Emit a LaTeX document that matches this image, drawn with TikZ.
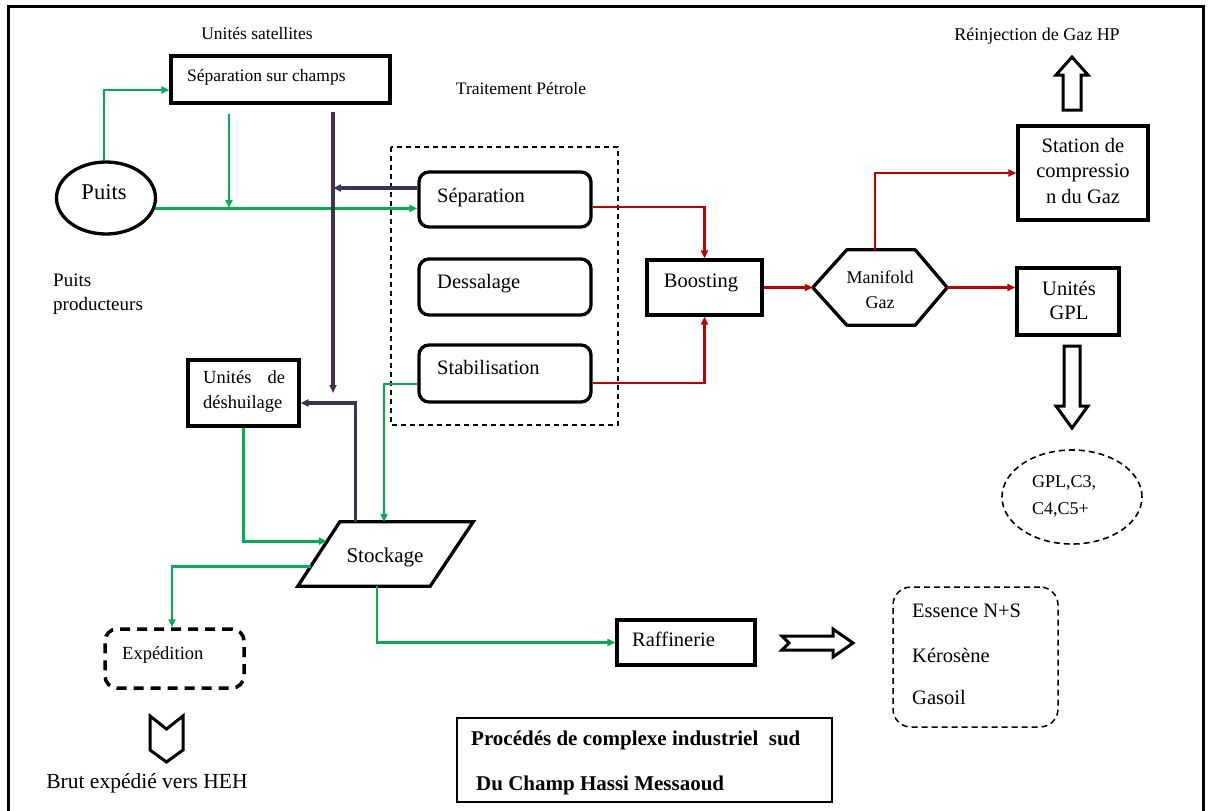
\documentclass[tikz,border=0pt]{standalone}
\usepackage{fontspec}
\setmainfont{Liberation Serif}
\usetikzlibrary{arrows.meta,calc,shapes.geometric}
\definecolor{flowgreen}{RGB}{0,176,80}
\definecolor{flowred}{RGB}{192,0,0}
\definecolor{flowpurple}{RGB}{64,49,82}

\begin{document}
\begin{tikzpicture}[x=1pt,y=-1pt,
  box/.style={draw,line width=3.3pt,inner sep=0pt},
  rbox/.style={box,rounded corners=10pt},
  ghost/.style={inner sep=0pt},
  lbl/.style={inner sep=0pt,anchor=base west},
  clbl/.style={inner sep=0pt,anchor=base},
  fA/.style={font=\fontsize{17.5}{21}\selectfont},
  fB/.style={font=\fontsize{20.5}{24}\selectfont},
  fC/.style={font=\fontsize{18.5}{22}\selectfont},
  fT/.style={font=\fontsize{21}{25}\selectfont\bfseries},
  gline/.style={draw=flowgreen,line width=2.6pt},
  rline/.style={draw=flowred,line width=2.6pt},
  pline/.style={draw=flowpurple,line width=3.3pt},
  tip/.style={-{Triangle[length=8pt,width=7pt]}},
  hollow/.style={draw,line width=3pt,fill=white,line join=miter},
]
\useasboundingbox (0,0) rectangle (1208,811);

% outer frame
\draw[line width=3pt] (8,816) -- (8,6) -- (1203,6) -- (1203,816);

% ---------- boxes ----------
\node[box,minimum width=219,minimum height=47] (satbox) at (280.5,79.5) {};
\node[draw,ellipse,line width=3.3pt,minimum width=99,minimum height=72,inner sep=0pt] (puits) at (106,198) {};

\draw[line width=1.5pt,dash pattern=on 5pt off 4pt] (391,147) rectangle (618,425);
\node[rbox,minimum width=172,minimum height=55] (sep) at (505,199.5) {};
\node[rbox,minimum width=172,minimum height=56] (dess) at (505,287) {};
\node[rbox,minimum width=172,minimum height=57] (stab) at (505,373.5) {};
\node[box,minimum width=115,minimum height=55] (boost) at (704.5,287.5) {};

\node[ghost,minimum width=134,minimum height=75] (mani) at (880,287.5) {};
\draw[line width=3.3pt,line join=round]
  (mani.west) -- ($(mani.north west)+(34,0)$) -- ($(mani.north east)+(-32,0)$)
  -- (mani.east) -- ($(mani.south east)+(-32,0)$) -- ($(mani.south west)+(34,0)$) -- cycle;

\node[box,minimum width=130,minimum height=94] (station) at (1083,173) {};
\node[box,minimum width=102,minimum height=67] (gpl) at (1068,301.5) {};
\node[draw,ellipse,line width=1.6pt,dash pattern=on 6pt off 4pt,minimum width=140,minimum height=94,inner sep=0pt] (gplprod) at (1072,497) {};

\node[box,minimum width=111,minimum height=66] (desh) at (243.5,393) {};
\node[ghost,minimum width=175,minimum height=64] (stock) at (385.5,554) {};
\draw[line width=3.3pt,line join=miter]
  ($(stock.north west)+(42,0)$) -- (stock.north east) -- ($(stock.south east)+(-43,0)$) -- (stock.south west) -- cycle;

\node[draw,line width=3.5pt,dash pattern=on 10pt off 7pt,rounded corners=12pt,minimum width=139,minimum height=59,inner sep=0pt] (exped) at (174.5,658.5) {};
\node[box,minimum width=138,minimum height=45] (raff) at (686,642.5) {};
\node[draw,line width=1.5pt,dash pattern=on 6pt off 4pt,rounded corners=18pt,minimum width=165,minimum height=140,inner sep=0pt] (prod) at (975.5,657) {};
\node[draw,line width=1.4pt,minimum width=375,minimum height=84,inner sep=0pt] (title) at (644.5,760) {};

% ---------- texts ----------
\node[clbl,fA] (tsat) at (257,39) {Unités satellites};
\node[lbl,fA] (tsatbox) at (187,81) {Séparation sur champs};
\node[clbl,font=\fontsize{22.5}{26}\selectfont] (tpuits) at (104,199) {Puits};
\node[lbl,font=\fontsize{19}{23}\selectfont] (tprod1) at (53,286) {Puits};
\node[lbl,font=\fontsize{19}{23}\selectfont] (tprod2) at (53,310) {producteurs};
\node[clbl,fA] (ttrait) at (521,94) {Traitement Pétrole};
\node[lbl,fB] (tsep) at (437,202) {Séparation};
\node[lbl,fB] (tdess) at (437,288) {Dessalage};
\node[lbl,fB] (tstab) at (437,374) {Stabilisation};
\node[clbl,fB] (tboost) at (701,287) {Boosting};
\node[clbl,font=\fontsize{18}{22}\selectfont] (tmani1) at (880,283) {Manifold};
\node[clbl,font=\fontsize{18}{22}\selectfont] (tmani2) at (880,308) {Gaz};
\node[clbl,fB] (tsta1) at (1083,152) {Station de};
\node[clbl,fB] (tsta2) at (1083,177) {compressio};
\node[clbl,fB] (tsta3) at (1083,203) {n du Gaz};
\node[clbl,fB] (tgpl1) at (1069,295) {Unités};
\node[clbl,fB] (tgpl2) at (1069,319) {GPL};
\node[clbl,font=\fontsize{18}{22}\selectfont] (treinj) at (1037,40) {Réinjection de Gaz HP};
\node[lbl,font=\fontsize{18}{22}\selectfont] (tc1) at (1032,487) {GPL,C3,};
\node[lbl,font=\fontsize{18}{22}\selectfont] (tc2) at (1032,514) {C4,C5+};
\node[lbl,fB] (tess) at (912,617) {Essence N+S};
\node[lbl,fB] (tker) at (912,662) {Kérosène};
\node[lbl,fB] (tgas) at (912,704) {Gasoil};
\node[lbl,fB] (traff) at (632,646) {Raffinerie};
\node[lbl,fT] (ttitle1) at (471,745) {Procédés de complexe industriel\ \ sud};
\node[lbl,fT] (ttitle2) at (476,790) {Du Champ Hassi Messaoud};
\node[lbl,fC] (tdesh1) at (203,383) {\makebox[82pt][s]{Unités de}};
\node[lbl,fC] (tdesh2) at (203,408) {déshuilage};
\node[clbl,font=\fontsize{21}{25}\selectfont] (tstock) at (385,562) {Stockage};
\node[lbl,fC] (texped) at (122,659) {Expédition};
\node[clbl,font=\fontsize{21.5}{25}\selectfont] (tbrut) at (147,788) {Brut expédié vers HEH};

% ---------- connectors ----------
\coordinate (j1) at (229,208);
\draw[gline,tip] ($(puits.north)+(-2,0)$) |- ($(satbox.west)+(0,10.5)$);
\draw[gline,tip] (puits.-12) -- (puits.-12 -| sep.west);
\draw[gline,tip] ($(satbox.south -| j1)+(0,9)$) -- (j1);

\coordinate (p1) at (333,112);
\coordinate (p2) at (333,393);
\coordinate (s1) at ($(sep.west)+(0,-11.5)$);
\draw[pline,tip] (p1) -- (p2);
\draw[pline,tip] (s1) -- (s1 -| p1);

\draw[rline,tip] ($(sep.east)+(0,7.5)$) -| (boost.north);
\draw[rline,tip] ($(stab.east)+(0,9.5)$) -| (boost.south);
\draw[rline,tip] (boost.east) -- (boost.east -| mani.west);
\draw[rline,tip] ($(mani.north)+(-5,0)$) |- (station.west);
\draw[rline,tip] (mani.east) -- (mani.east -| gpl.west);

\draw[gline,tip] ($(stab.west)+(0,10.5)$) -| ($(stock.north)+(-1.5,0)$);
\draw[pline,tip] ($(stock.north)+(-30,0)$) |- ($(desh.east)+(0,10)$);
\draw[gline,tip] (desh.south) |- ($(stock.south west)+(29,-45)$);
\draw[gline,tip] ($(stock.south west)+(13,-20)$) -| ($(exped.north)+(-2.5,0)$);
\draw[gline,tip] ($(stock.south)+(-8.5,0)$) |- (raff.west);

% ---------- hollow block arrows ----------
\draw[hollow] (1063,110) -- (1063,75) -- (1056,75) -- (1072,57) -- (1088,75) -- (1081,75) -- (1081,110) -- cycle;
\draw[hollow] (1064,346) -- (1080,346) -- (1080,406) -- (1088,406) -- (1072,428) -- (1056,406) -- (1064,406) -- cycle;
\draw[hollow] (782,636) -- (833,636) -- (833,629) -- (853,643) -- (833,657) -- (833,650) -- (782,650) -- (789,643) -- cycle;
\draw[hollow] (150,716) -- (166.5,729) -- (183,716) -- (183,750) -- (166.5,762) -- (150,750) -- cycle;

\end{tikzpicture}
\end{document}
